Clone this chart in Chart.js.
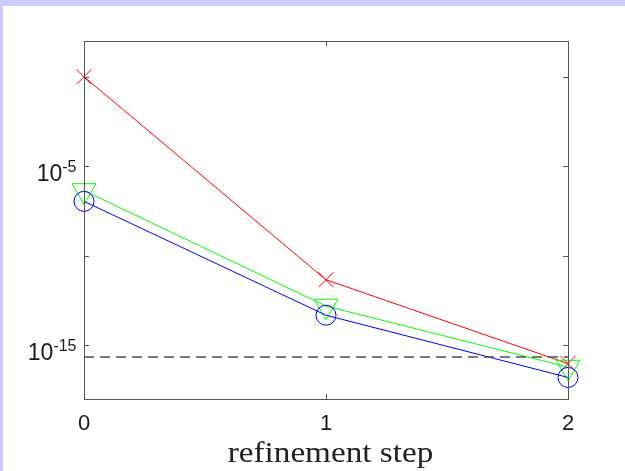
<!DOCTYPE html>
<html>
<head>
<meta charset="utf-8">
<script src="https://cdn.jsdelivr.net/npm/chart.js@4/dist/chart.umd.min.js"></script>
<style>
  html, body { margin: 0; padding: 0; background: #fff; }
  canvas { display: block; }
</style>
</head>
<body>
<canvas id="c" width="625" height="471"></canvas>
<script>
// refinement steps and the three error curves (log scale)
const steps = [0, 1, 2];
const errRed = [1e0, 4.6e-12, 9.5e-17];
const errGreen = [4.4e-7, 1.55e-13, 6e-17];
const errBlue = [1.1e-7, 4.8e-14, 1.6e-17];
const epsLevel = 2.22e-16;

const yTickValues = [1e-15, 1e-10, 1e-5, 1e0];
const yLabelValues = [1e-15, 1e-5];
const yLabelExps = ['-15', '-5'];
const xTickValues = [0, 1, 2];
const xTickLabels = ['0', '1', '2'];
const xTitle = 'refinement step';

const toPoints = (ys) => steps.map((s, i) => ({ x: s, y: ys[i] }));

const matlabAxes = {
  id: 'matlabAxes',
  beforeDraw(chart) {
    const c = chart.ctx;
    c.save();
    c.fillStyle = '#ffffff';
    c.fillRect(0, 0, chart.width, chart.height);
    c.fillStyle = '#ccccff';
    c.fillRect(0, 0, chart.width, 6);
    c.fillRect(0, 0, 3, chart.height);
    c.restore();
  },
  afterDraw(chart) {
    const c = chart.ctx;
    const a = chart.chartArea;
    const xs = chart.scales.x;
    const ys = chart.scales.y;
    c.save();
    c.strokeStyle = '#555555';
    c.lineWidth = 1;
    c.strokeRect(a.left + 0.5, a.top + 0.5, a.right - a.left, a.bottom - a.top);

    // ticks, pointing inwards on all four sides
    const len = 5;
    c.beginPath();
    yTickValues.forEach((v) => {
      const y = Math.round(ys.getPixelForValue(v)) + 0.5;
      c.moveTo(a.left, y); c.lineTo(a.left + len, y);
      c.moveTo(a.right, y); c.lineTo(a.right - len, y);
    });
    xTickValues.forEach((v) => {
      const x = Math.round(xs.getPixelForValue(v)) + 0.5;
      c.moveTo(x, a.bottom); c.lineTo(x, a.bottom - len);
      c.moveTo(x, a.top); c.lineTo(x, a.top + len);
    });
    c.stroke();

    // y labels with superscript exponents
    c.fillStyle = '#1a1a1a';
    c.textBaseline = 'alphabetic';
    c.textAlign = 'left';
    const rightEdge = a.left - 7.5;
    const mainFont = '23px "Liberation Sans", Arial, sans-serif';
    const supFont = '16px "Liberation Sans", Arial, sans-serif';
    yLabelValues.forEach((v, i) => {
      const y = ys.getPixelForValue(v);
      c.font = mainFont;
      const wMain = c.measureText('10').width;
      c.font = supFont;
      const wSup = c.measureText(yLabelExps[i]).width;
      const x0 = rightEdge - wMain - wSup;
      c.font = mainFont;
      c.fillText('10', x0, y + 14.5);
      c.font = supFont;
      c.fillText(yLabelExps[i], x0 + wMain, y + 14.5 - 8.5);
    });

    // x labels
    c.font = '22px "Liberation Sans", Arial, sans-serif';
    c.textAlign = 'center';
    xTickValues.forEach((v, i) => {
      c.fillText(xTickLabels[i], xs.getPixelForValue(v), 429.5);
    });

    // x title, serif
    c.fillStyle = '#222222';
    c.font = '30px "Liberation Serif", "DejaVu Serif", serif';
    const w = c.measureText(xTitle).width;
    const sx = 205.6 / w;
    c.translate(330.5, 461.5);
    c.scale(sx, 1);
    c.fillText(xTitle, 0, 0);
    c.restore();
  }
};

new Chart(document.getElementById('c'), {
  type: 'line',
  data: {
    datasets: [
      {
        label: 'eps',
        data: [{ x: steps[0], y: epsLevel }, { x: steps[steps.length - 1], y: epsLevel }],
        borderColor: '#505050',
        borderWidth: 1.3,
        borderDash: [10, 6],
        pointRadius: 0,
        clip: false,
      },
      {
        label: 'blue',
        data: toPoints(errBlue),
        borderColor: '#0000ff',
        borderWidth: 1,
        pointStyle: 'circle',
        pointRadius: 10,
        pointBorderColor: '#0000ff',
        pointBackgroundColor: 'rgba(0,0,0,0)',
        pointBorderWidth: 1,
        clip: false,
      },
      {
        label: 'green',
        data: toPoints(errGreen),
        borderColor: '#00ff00',
        borderWidth: 1,
        pointStyle: 'triangle',
        pointRotation: 180,
        pointRadius: 13.8,
        pointBorderColor: '#00ff00',
        pointBackgroundColor: 'rgba(0,0,0,0)',
        pointBorderWidth: 1,
        clip: false,
      },
      {
        label: 'red',
        data: toPoints(errRed),
        borderColor: '#ff0000',
        borderWidth: 1,
        pointStyle: 'crossRot',
        pointRadius: 10.6,
        pointBorderColor: '#ff0000',
        pointBorderWidth: 1,
        clip: false,
      },
    ],
  },
  options: {
    responsive: false,
    animation: false,
    layout: { padding: { left: 84, right: 57, top: 41, bottom: 72 } },
    plugins: { legend: { display: false }, tooltip: { enabled: false } },
    scales: {
      x: { type: 'linear', min: 0, max: 2, display: false },
      y: { type: 'logarithmic', min: 1e-18, max: 1e2, display: false },
    },
  },
  plugins: [matlabAxes],
});
</script>
</body>
</html>
